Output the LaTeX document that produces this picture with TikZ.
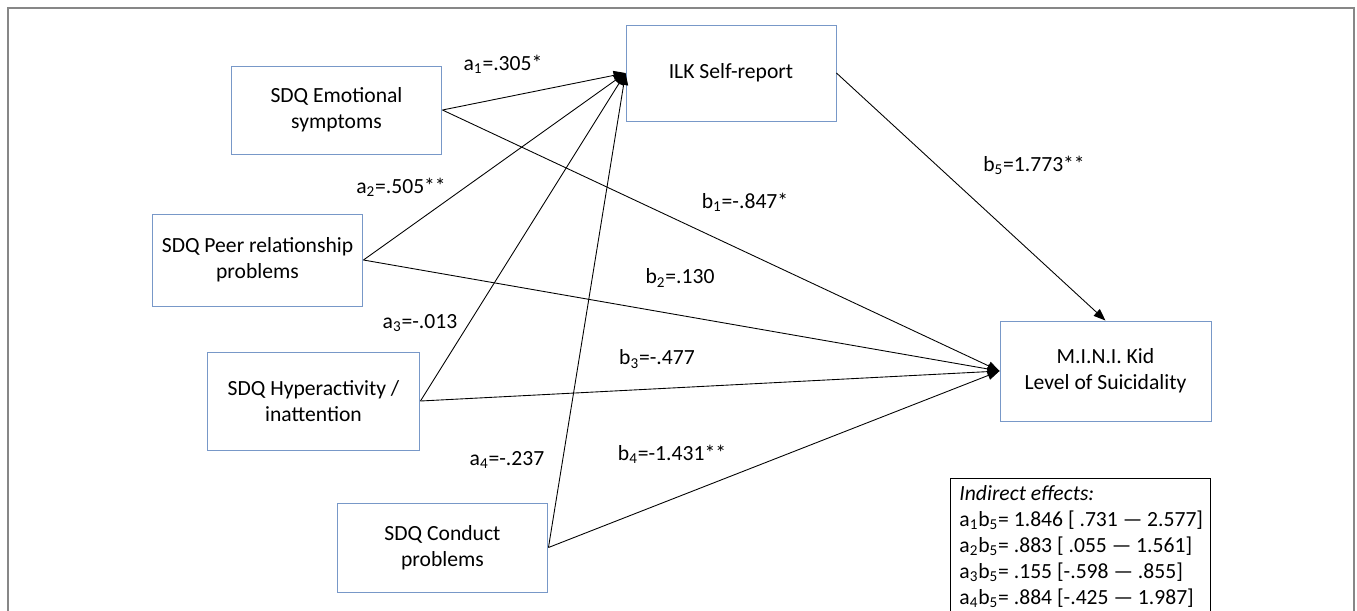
\documentclass[tikz,border=0pt]{standalone}
\usepackage{fontspec}
\setmainfont{Carlito}
\usepackage{tikz}
\usetikzlibrary{arrows.meta}
\definecolor{boxblue}{RGB}{120,152,200}
\definecolor{framegray}{RGB}{135,135,135}
\tikzset{
>={Triangle[length=2.4mm,width=1.8mm]}, % filled black heads
var/.style={draw=boxblue, line width=0.55pt, align=center, inner sep=2pt}, % the measured variables
coef/.style={inner sep=1pt}, % path coefficients
}

\begin{document}
\begin{tikzpicture}[x=0.02cm, y=-0.02cm, font=\fontsize{12.3}{14.8}\selectfont, line width=0.5pt]
\clip (0,0) rectangle (1357,610);
\draw[framegray, line width=0.7pt] (8,8) rectangle (1354,650);
\node[var, minimum width=4.22cm, minimum height=1.76cm] (emo) at (336.5,110) {SDQ Emotional\\symptoms};
\node[var, minimum width=4.22cm, minimum height=1.84cm] (peer) at (257.5,260) {SDQ Peer relationship\\problems};
\node[var, minimum width=4.26cm, minimum height=1.96cm] (hyper) at (313.5,401) {SDQ Hyperactivity /\\inattention};
\node[var, minimum width=4.22cm, minimum height=1.78cm] (conduct) at (442.5,547.5) {SDQ Conduct\\problems};
\node[var, minimum width=4.2cm, minimum height=1.92cm] (ilk) at (731,73) {ILK Self-report};
\node[var, minimum width=4.22cm, minimum height=2cm] (mini) at (1105.5,371) {M.I.N.I. Kid\\Level of Suicidality};
\node[coef] (la1) at (503,64) {a\textsubscript{1}=.305*};
\node[coef] (la2) at (401,187) {a\textsubscript{2}=.505**};
\node[coef] (la3) at (420,323) {a\textsubscript{3}=-.013};
\node[coef] (la4) at (507,460) {a\textsubscript{4}=-.237};
\node[coef] (lb1) at (745,202) {b\textsubscript{1}=-.847*};
\node[coef] (lb2) at (680,278) {b\textsubscript{2}=.130};
\node[coef] (lb3) at (657,359) {b\textsubscript{3}=-.477};
\node[coef] (lb4) at (672,454) {b\textsubscript{4}=-1.431**};
\node[coef] (lb5) at (1034,165) {b\textsubscript{5}=1.773**};
\node[draw, line width=0.6pt, anchor=north west, minimum width=5.2cm, minimum height=3cm] (indbox) at (950,478) {};
\node[anchor=north west, align=left, inner sep=0pt] (indtext) at ([xshift=0.18cm,yshift=-0.14cm]indbox.north west) {\textit{Indirect effects:}\\
a\textsubscript{1}b\textsubscript{5}= 1.846 [ .731 --- 2.577]\\
a\textsubscript{2}b\textsubscript{5}= .883 [ .055 --- 1.561]\\
a\textsubscript{3}b\textsubscript{5}= .155 [-.598 --- .855]\\
a\textsubscript{4}b\textsubscript{5}= .884 [-.425 --- 1.987]};
\draw[->] (emo.east) -- (ilk.west);
\draw[->] (peer.east) -- (ilk.west);
\draw[->] (hyper.east) -- (ilk.west);
\draw[->] (conduct.east) -- (ilk.west);
\draw[->] (emo.east) -- (mini.west);
\draw[->] (peer.east) -- (mini.west);
\draw[->] (hyper.east) -- (mini.west);
\draw[->] (conduct.east) -- (mini.west);
\draw[->] (ilk.east) -- (mini.north);
\end{tikzpicture}
\end{document}
